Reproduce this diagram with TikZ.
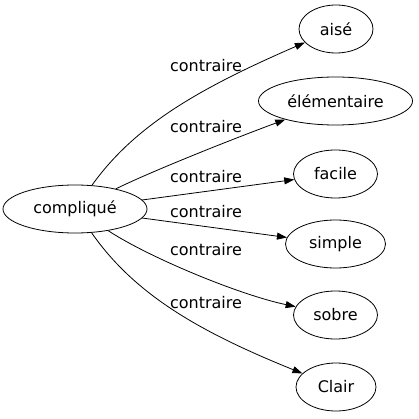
\documentclass[tikz,border=0pt]{standalone}
\usepackage{fontspec}
\setmainfont{DejaVu Sans}
\usetikzlibrary{shapes.geometric,arrows.meta}

\tikzset{
  mot/.style={ellipse,draw,line width=0.8pt,inner sep=0pt,minimum height=48pt},
  lien/.style={line width=0.8pt,-{Triangle[length=10pt,width=7pt]}},
  rel/.style={inner sep=0pt}
}

\begin{document}
\begin{tikzpicture}[x=1pt,y=-1pt,font=\fontsize{16}{19}\selectfont]
\useasboundingbox (0,0) rectangle (418,419);
\node[mot,minimum width=144pt] (compl) at (75,209) {compliqué};
\node[mot,minimum width=74pt] (aise) at (336,29) {aisé};
\node[mot,minimum width=154pt] (elem) at (335.5,101) {élémentaire};
\node[mot,minimum width=84pt] (facile) at (335.5,174) {facile};
\node[mot,minimum width=100pt] (simple) at (335.5,244) {simple};
\node[mot,minimum width=84pt] (sobre) at (335.5,315) {sobre};
\node[mot,minimum width=80pt] (clair) at (336,387) {Clair};
\node[rel] (r1) at (206,66) {contraire};
\node[rel] (r2) at (206,127) {contraire};
\node[rel] (r3) at (206,177) {contraire};
\node[rel] (r4) at (206,212) {contraire};
\node[rel] (r5) at (206,250) {contraire};
\node[rel] (r6) at (206,303) {contraire};
\draw[lien] (compl) .. controls (135,125) and (200,88) .. (aise);
\draw[lien] (compl) .. controls (150,172) and (230,140) .. (elem);
\draw[lien] (compl) -- (facile);
\draw[lien] (compl) -- (simple);
\draw[lien] (compl) .. controls (150,258) and (240,295) .. (sobre);
\draw[lien] (compl) .. controls (135,295) and (200,332) .. (clair);
\end{tikzpicture}
\end{document}
